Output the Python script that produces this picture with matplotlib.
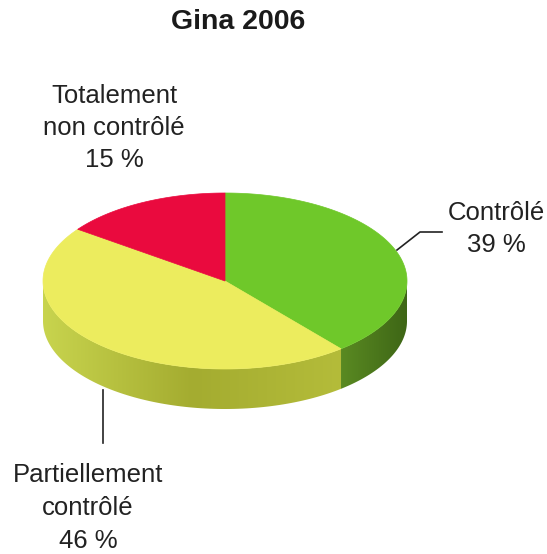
import numpy as np
import matplotlib.pyplot as plt
from matplotlib.patches import Polygon
from matplotlib.colors import LinearSegmentedColormap

# data
labels = ['Contrôlé\n39 %', 'Partiellement\ncontrôlé\n46 %', 'Totalement\nnon contrôlé\n15 %']
values = [39, 46, 15]
top_colors = ['#6fc82a', '#ecec5e', '#ea0a3e']
side_colors = [['#5a8a22', '#3e6616'], ['#c8d44e', '#a4ac30', '#b4bc3a'], ['#b00830', '#900020']]

plt.rcParams['font.family'] = ['Liberation Sans', 'DejaVu Sans']

fig = plt.figure(figsize=(5.47, 5.54), dpi=100)
ax = fig.add_axes([0, 0, 1, 1])
ax.set_xlim(0, 547)
ax.set_ylim(554, 0)
ax.axis('off')

# pie geometry (pixels)
cx, cy, rx, ry, depth = 225, 281, 182, 88, 40


def ell(t, dy=0):
    t = np.radians(t)
    return cx + rx * np.cos(t), cy - ry * np.sin(t) + dy


fracs = np.array(values) / sum(values)
ends = 90 - 360 * np.cumsum(fracs)
starts = np.r_[90, ends[:-1]]

# side walls (front half only)
for i in range(len(values)):
    lo, hi = ends[i], starts[i]
    for a, b in [(-180, 0), (-540, -360)]:
        t0, t1 = max(lo, a), min(hi, b)
        if t1 <= t0:
            continue
        t = np.linspace(t0, t1, 100)
        xt, yt = ell(t)
        xb, yb = ell(t[::-1], depth)
        pts = np.column_stack([np.r_[xt, xb], np.r_[yt, yb]])
        poly = Polygon(pts, closed=True, facecolor='none', edgecolor='none')
        ax.add_patch(poly)
        cmap = LinearSegmentedColormap.from_list('side%d' % i, side_colors[i])
        grad = np.linspace(0, 1, 256).reshape(1, -1)
        im = ax.imshow(grad, cmap=cmap, aspect='auto',
                       extent=[pts[:, 0].min(), pts[:, 0].max(), pts[:, 1].max(), pts[:, 1].min()],
                       zorder=1)
        im.set_clip_path(poly)

# top surface
for i in range(len(values)):
    t = np.linspace(starts[i], ends[i], 200)
    xt, yt = ell(t)
    pts = np.column_stack([np.r_[cx, xt], np.r_[cy, yt]])
    ax.add_patch(Polygon(pts, closed=True, facecolor=top_colors[i],
                         edgecolor=top_colors[i], linewidth=0.5, zorder=2))

ax.set_xlim(0, 547)
ax.set_ylim(554, 0)

# leader lines
ax.plot([397, 420, 442], [250, 232, 232], color='#222222', lw=1.2, zorder=3)
ax.plot([103, 103], [390, 443], color='#222222', lw=1.2, zorder=3)

# labels
ax.text(238, 22, 'Gina 2006', ha='center', va='center', fontsize=20.5, fontweight='bold', color='#1a1a1a')
ax.text(496, 229, labels[0], ha='center', va='center', fontsize=18.5, linespacing=1.45, color='#222222')
ax.text(88, 508, labels[1], ha='center', va='center', fontsize=18.5, linespacing=1.45, color='#222222')
ax.text(114, 128, labels[2], ha='center', va='center', fontsize=18.5, linespacing=1.4, color='#222222')

fig.savefig('out.png', dpi=100)
